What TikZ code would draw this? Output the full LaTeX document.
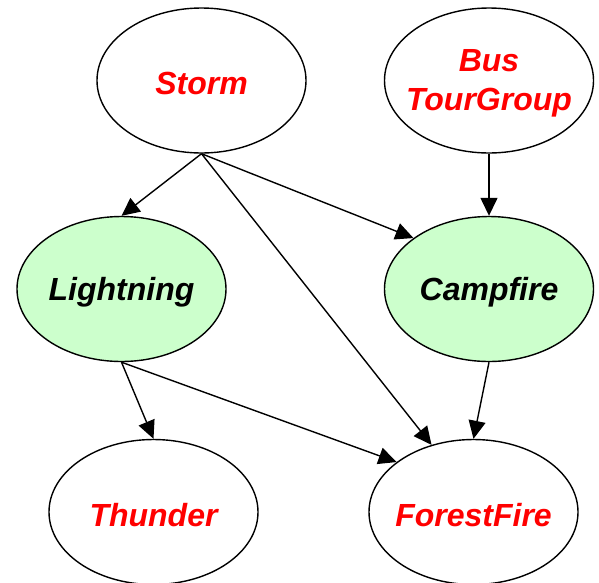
\documentclass[tikz,border=0pt]{standalone}
\usepackage{fontspec}
\setmainfont{Liberation Sans}
\usetikzlibrary{shapes.geometric,arrows.meta}
\definecolor{evidfill}{HTML}{CCFFCC}
% zero-width, slightly lowered text line inside a node
\newcommand{\nlbl}[1]{\raisebox{-3pt}[\height][\depth]{\makebox[0pt]{#1}}}
\begin{document}
\begin{tikzpicture}[x=1pt,y=-1pt,
  var/.style={ellipse, draw=black, line width=1.4pt, minimum width=209pt,
    minimum height=145pt, inner sep=0pt, align=center, text=red,
    font=\fontsize{32}{39}\selectfont\bfseries\itshape},
  evid/.style={var, fill=evidfill, text=black},
  edge/.style={line width=1.4pt, -{Triangle[length=18pt,width=17pt]}}]
\useasboundingbox (0,0) rectangle (599,582);

% variables of the network
\node[var]  (storm)      at (201.5,80.5) {\nlbl{Storm}};
\node[var]  (bus)        at (489,80.5)   {\nlbl{Bus}\\\nlbl{TourGroup}};
\node[evid] (lightning)  at (121.5,289)  {\nlbl{Lightning}};
\node[evid] (campfire)   at (489,289)    {\nlbl{Campfire}};
\node[var]  (thunder)    at (153.5,512)  {\nlbl{Thunder}};
\node[var]  (forestfire) at (473.5,512)  {\nlbl{ForestFire}};

% causal links
\draw[edge] (storm.south) -- (lightning.north);
\draw[edge] (storm.south) -- (campfire.146);
\draw[edge] (storm.south) -- (forestfire.122);
\draw[edge] (bus.south) -- (campfire.north);
\draw[edge] (lightning.south) -- (thunder.north);
\draw[edge] (lightning.south) -- (forestfire.147);
\draw[edge] (campfire.south) -- (forestfire.north);
\end{tikzpicture}
\end{document}
